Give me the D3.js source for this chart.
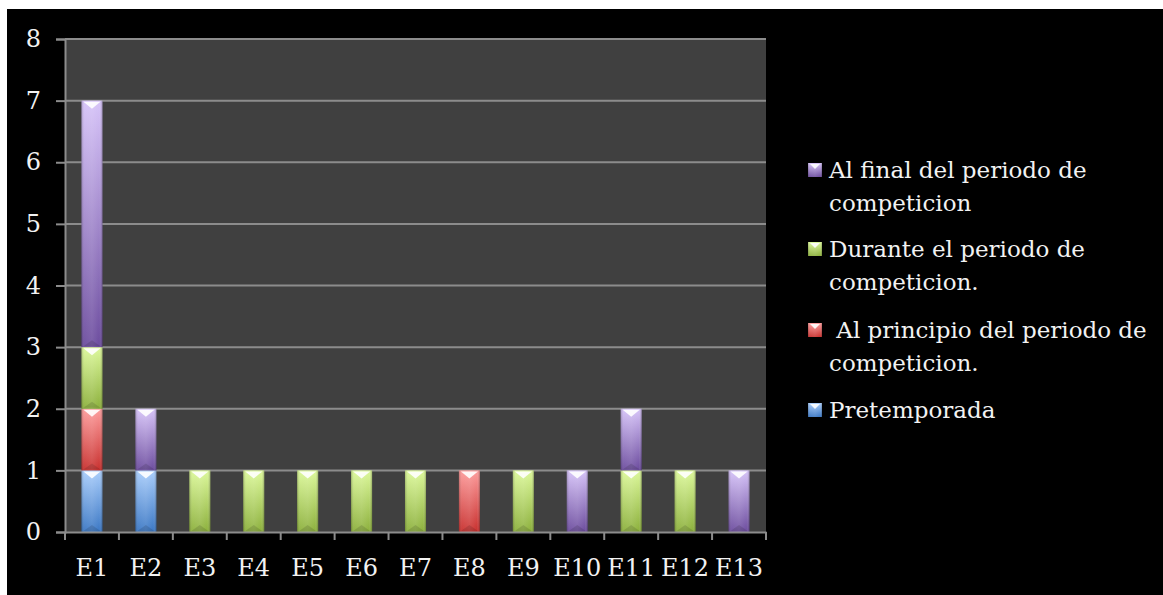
<!DOCTYPE html>
<html>
<head>
<meta charset="utf-8">
<script src="https://cdn.jsdelivr.net/npm/d3@7"></script>
<style>
  html, body { margin: 0; padding: 0; background: #fff; }
  svg { display: block; }
  text { font-family: "DejaVu Serif", "Liberation Serif", serif; fill: #f2f2f2; }
</style>
</head>
<body>
<svg id="chart" width="1163" height="595"></svg>
<script>
// categories and series (stack order bottom -> top)
const categories = ["E1","E2","E3","E4","E5","E6","E7","E8","E9","E10","E11","E12","E13"];
const pretemporada = [1,1,0,0,0,0,0,0,0,0,0,0,0];
const alPrincipio  = [1,0,0,0,0,0,0,1,0,0,0,0,0];
const durante      = [1,0,1,1,1,1,1,0,1,0,1,1,0];
const alFinal      = [4,1,0,0,0,0,0,0,0,1,1,0,1];
const yTicks = [0,1,2,3,4,5,6,7,8];

const series = [
  { key: "pre", values: pretemporada, label: ["Pretemporada"], light: "#a9cdfb", dark: "#3a77c4" },
  { key: "pri", values: alPrincipio, label: [" Al principio del periodo de", "competicion."], light: "#fd9c9c", dark: "#c8302e" },
  { key: "dur", values: durante, label: ["Durante el periodo de", "competicion."], light: "#dcf89a", dark: "#8cb03c" },
  { key: "fin", values: alFinal, label: ["Al final del periodo de", "competicion"], light: "#d6c3f8", dark: "#6c4c9e" }
];

const svg = d3.select("#chart");
const margin = { left: 65, top: 39, right: 766, bottom: 532 };

// black canvas with the thin white border top/left
svg.append("rect").attr("x", 7).attr("y", 9).attr("width", 1163 - 7).attr("height", 595 - 9).attr("fill", "#000");

const x = d3.scaleBand().domain(categories).range([margin.left, margin.right]).paddingInner(0).paddingOuter(0);
const y = d3.scaleLinear().domain([0, 8]).range([margin.bottom, margin.top]);

const defs = svg.append("defs");
series.forEach(s => {
  const g = defs.append("linearGradient").attr("id", "grad-" + s.key).attr("x1", 0).attr("y1", 0).attr("x2", 0).attr("y2", 1);
  g.append("stop").attr("offset", "0%").attr("stop-color", s.light);
  g.append("stop").attr("offset", "100%").attr("stop-color", s.dark);
});
const shade = defs.append("linearGradient").attr("id", "shade").attr("x1", 0).attr("y1", 0).attr("x2", 1).attr("y2", 0);
shade.append("stop").attr("offset", "0%").attr("stop-color", "#000").attr("stop-opacity", 0.22);
shade.append("stop").attr("offset", "15%").attr("stop-color", "#fff").attr("stop-opacity", 0.05);
shade.append("stop").attr("offset", "50%").attr("stop-color", "#fff").attr("stop-opacity", 0.1);
shade.append("stop").attr("offset", "85%").attr("stop-color", "#fff").attr("stop-opacity", 0.0);
shade.append("stop").attr("offset", "100%").attr("stop-color", "#000").attr("stop-opacity", 0.28);

// plot area
svg.append("rect")
  .attr("x", margin.left).attr("y", margin.top)
  .attr("width", margin.right - margin.left).attr("height", margin.bottom - margin.top)
  .attr("fill", "#404040");

// gridlines
svg.append("g").selectAll("line").data(yTicks.slice(1)).join("line")
  .attr("x1", margin.left).attr("x2", margin.right)
  .attr("y1", d => y(d)).attr("y2", d => y(d))
  .attr("stroke", "#8c8c8c").attr("stroke-width", 2);

// stacked bars
const stackData = categories.map((c, i) => {
  const row = { cat: c };
  series.forEach(s => row[s.key] = s.values[i]);
  return row;
});
const stacked = d3.stack().keys(series.map(s => s.key))(stackData);
const barW = x.bandwidth() * 0.39;

stacked.forEach((layer, li) => {
  const s = series[li];
  const g = svg.append("g");
  layer.forEach((d, i) => {
    if (d[1] - d[0] <= 0) return;
    const bx = x(categories[i]) + (x.bandwidth() - barW) / 2;
    const by = y(d[1]);
    const bh = y(d[0]) - y(d[1]);
    g.append("rect").attr("x", bx).attr("y", by).attr("width", barW).attr("height", bh)
      .attr("fill", `url(#grad-${s.key})`);
    g.append("rect").attr("x", bx).attr("y", by).attr("width", barW).attr("height", bh)
      .attr("fill", "url(#shade)");
    // bevel highlight on top
    g.append("path")
      .attr("d", `M${bx + 2},${by + 1}L${bx + barW - 2},${by + 1}L${bx + barW / 2},${by + 8}Z`)
      .attr("fill", "#fff").attr("opacity", 0.9);
    // darker bevel at bottom
    g.append("path")
      .attr("d", `M${bx + 2},${by + bh - 1}L${bx + barW - 2},${by + bh - 1}L${bx + barW / 2},${by + bh - 7}Z`)
      .attr("fill", "#000").attr("opacity", 0.12);
  });
});

// y axis
const yAxis = svg.append("g").attr("transform", `translate(${margin.left},0)`)
  .call(d3.axisLeft(y).tickValues(yTicks).tickSize(9).tickPadding(15).tickFormat(d3.format("d")));
yAxis.select(".domain").attr("stroke", "#8c8c8c").attr("stroke-width", 2);
yAxis.selectAll(".tick line").attr("stroke", "#8c8c8c").attr("stroke-width", 2);
yAxis.selectAll("text").attr("font-size", 24).attr("fill", "#f2f2f2").attr("font-family", "DejaVu Serif");

// x axis
const xAxis = svg.append("g").attr("transform", `translate(0,${margin.bottom})`)
  .call(d3.axisBottom(x).tickSize(0).tickPadding(27));
xAxis.select(".domain").attr("stroke", "#8c8c8c").attr("stroke-width", 2);
xAxis.selectAll("text").attr("font-size", 24).attr("fill", "#f2f2f2").attr("font-family", "DejaVu Serif");
xAxis.append("g").selectAll("line").data(d3.range(categories.length + 1)).join("line")
  .attr("x1", i => margin.left + i * x.step()).attr("x2", i => margin.left + i * x.step())
  .attr("y1", 0).attr("y2", 8)
  .attr("stroke", "#8c8c8c").attr("stroke-width", 2);

// legend (top entry = last series)
const legendY = [170, 249, 330, 410];
const legendSeries = series.slice().reverse();
legendSeries.forEach((s, i) => {
  const g = svg.append("g").attr("transform", `translate(808,${legendY[i]})`);
  g.append("rect").attr("x", 0).attr("y", -7).attr("width", 14).attr("height", 14).attr("fill", `url(#grad-${s.key})`);
  g.append("rect").attr("x", 0).attr("y", -7).attr("width", 14).attr("height", 14).attr("fill", "url(#shade)");
  g.append("path").attr("d", "M2,-6L12,-6L7,-1Z").attr("fill", "#fff").attr("opacity", 0.9);
  s.label.forEach((t, j) => {
    g.append("text").attr("x", 21).attr("y", j * 33 + 8)
      .attr("font-size", 23).attr("xml:space", "preserve")
      .text(t);
  });
});
</script>
</body>
</html>
